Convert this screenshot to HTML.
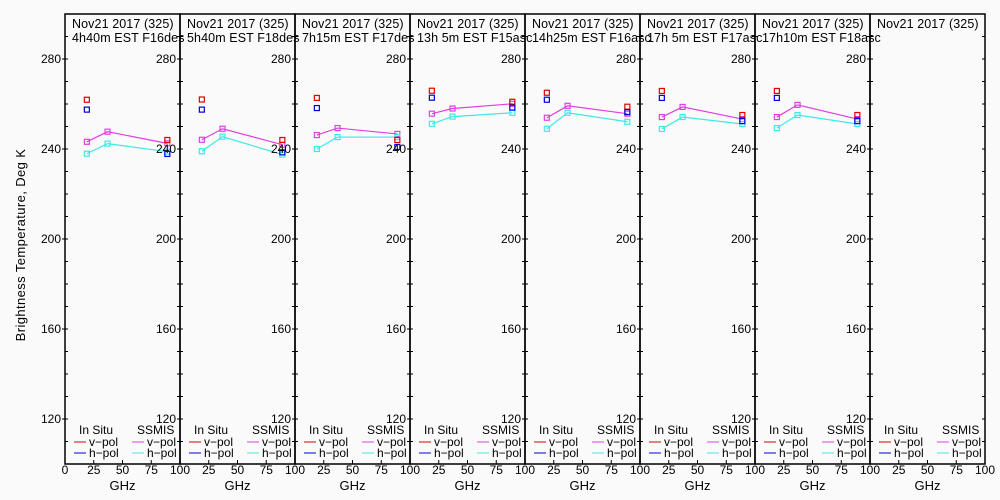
<!DOCTYPE html>
<html><head><meta charset="utf-8"><style>
body{margin:0;background:#fafafa;}
svg{display:block;font-family:"Liberation Sans",sans-serif;}
</style></head><body>
<svg id="c" width="1000" height="500"></svg>
<script>
const panelTitles=["4h40m EST F16des","5h40m EST F18des","7h15m EST F17des","13h 5m EST F15asc","14h25m EST F16asc","17h 5m EST F17asc","17h10m EST F18asc",""];
const dateLabel="Nov21 2017 (325)";
const ssmisFreq=[19,37,89];
const insituFreq=[19,89];
const ssmisV=[[243.2,247.7,242.5],[244.1,249,241.9],[246.2,249.3,246.7],[255.7,258,260.1],[253.9,259.2,255.7],[254.2,258.7,253.3],[254.2,259.6,253.3],[]];
const ssmisH=[[237.9,242.4,238.8],[239,245.5,237.5],[240,245.3,245.3],[251.2,254.4,256.1],[249,256.1,252.1],[248.9,254.2,251.1],[249.3,255.1,251.1],[]];
const insituV=[[261.9,244],[262,244],[262.7,244],[265.9,261],[265,258.8],[265.8,255.1],[265.8,255.1],[]];
const insituH=[[257.5,237.8],[257.5,238.5],[258.2,240.9],[262.8,258.4],[261.9,256.4],[262.7,252.4],[262.7,252.4],[]];
const yTicks=[120,160,200,240,280];
const xTicks=[0,25,50,75,100];
const NS="http://www.w3.org/2000/svg";
const svg=document.getElementById('c');
const top0=14,bot=464,pw=115,left0=65;
function yS(v){return bot-(v-100)*(bot-top0)/200;}
function mk(t,a,p){const e=document.createElementNS(NS,t);for(const k in a)e.setAttribute(k,a[k]);(p||svg).appendChild(e);return e;}
function txt(s,x,y,anchor,size,p,ls){const e=mk('text',{x:x,y:y,'text-anchor':anchor,'font-size':size,fill:'#000','letter-spacing':ls||0},p);e.textContent=s;return e;}
for(let i=0;i<8;i++){
  const x0=left0+i*pw;
  const xS=f=>x0+f*pw/100;
  const g=mk('g',{});
  
  
  const r=mk('rect',{x:x0,y:top0,width:pw,height:bot-top0,fill:'none',stroke:'#000','stroke-width':1.5},g);
  
  
  for(let v=110;v<=290;v+=10){
    const y=yS(v);
    mk('line',{x1:x0,x2:x0+3,y1:y,y2:y,stroke:'#000'},g);
    mk('line',{x1:x0+pw-3,x2:x0+pw,y1:y,y2:y,stroke:'#000'},g);
  }
  yTicks.forEach(v=>{const y=yS(v);mk('line',{x1:x0-3,x2:x0,y1:y,y2:y,stroke:'#000'},g);
    const t=txt(String(v),x0-4,y+4,'end',12,g);});
  xTicks.forEach((f,j)=>{const x=xS(f);mk('line',{x1:x,x2:x,y1:bot,y2:bot-4,stroke:'#000'},g);
    if(!(i>0&&j==0)){const t=txt(String(f),x,474,'middle',12,g);}});
  const gx=txt('GHz',x0+pw/2,490,'middle',13,g);
  
  
  const t1=txt(dateLabel,x0+7,28,'start',12.5,g,0.1);
  
  
  if(panelTitles[i]){const t2=txt(panelTitles[i],x0+7,42,'start',12.5,g,0.1);
    
    }
  const lg=mk('g',{},g);
  
  
  txt('In Situ',x0+14,434,'start',12,lg);
  txt('SSMIS',x0+72,434,'start',12,lg);
  [['#e00000','#e040e0',446,'v−pol'],['#0000e0','#40e8e8',457,'h−pol']].forEach(a=>{
    mk('line',{x1:x0+9,x2:x0+21,y1:a[2]-4,y2:a[2]-4,stroke:a[0]},lg);txt(a[3],x0+24,a[2],'start',12,lg);
    mk('line',{x1:x0+67,x2:x0+79,y1:a[2]-4,y2:a[2]-4,stroke:a[1]},lg);txt(a[3],x0+82,a[2],'start',12,lg);
  });
  const series=[[ssmisFreq,ssmisV[i],'#e040e0',true,'ssmis-vpol'],[ssmisFreq,ssmisH[i],'#40e8e8',true,'ssmis-hpol'],[insituFreq,insituV[i],'#e00000',false,'insitu-vpol'],[insituFreq,insituH[i],'#0000e0',false,'insitu-hpol']];
  series.forEach(s=>{
    const [fr,vals,col,line,name]=s;if(!vals.length)return;
    if(line){const pl=mk('polyline',{points:vals.map((v,k)=>xS(fr[k])+','+yS(v)).join(' '),fill:'none',stroke:col,'stroke-width':1.2},g);
      
      }
    vals.forEach((v,k)=>{const m=mk('rect',{x:xS(fr[k])-2.5,y:yS(v)-2.5,width:5,height:5,fill:'none',stroke:col,'stroke-width':1.2},g);
      
      });
  });
}
const yt=mk('text',{x:0,y:0,'text-anchor':'middle','font-size':13,fill:'#000','letter-spacing':0.4,transform:'translate(25,245) rotate(-90)'});
yt.textContent='Brightness Temperature, Deg K';


</script>
</body></html>
